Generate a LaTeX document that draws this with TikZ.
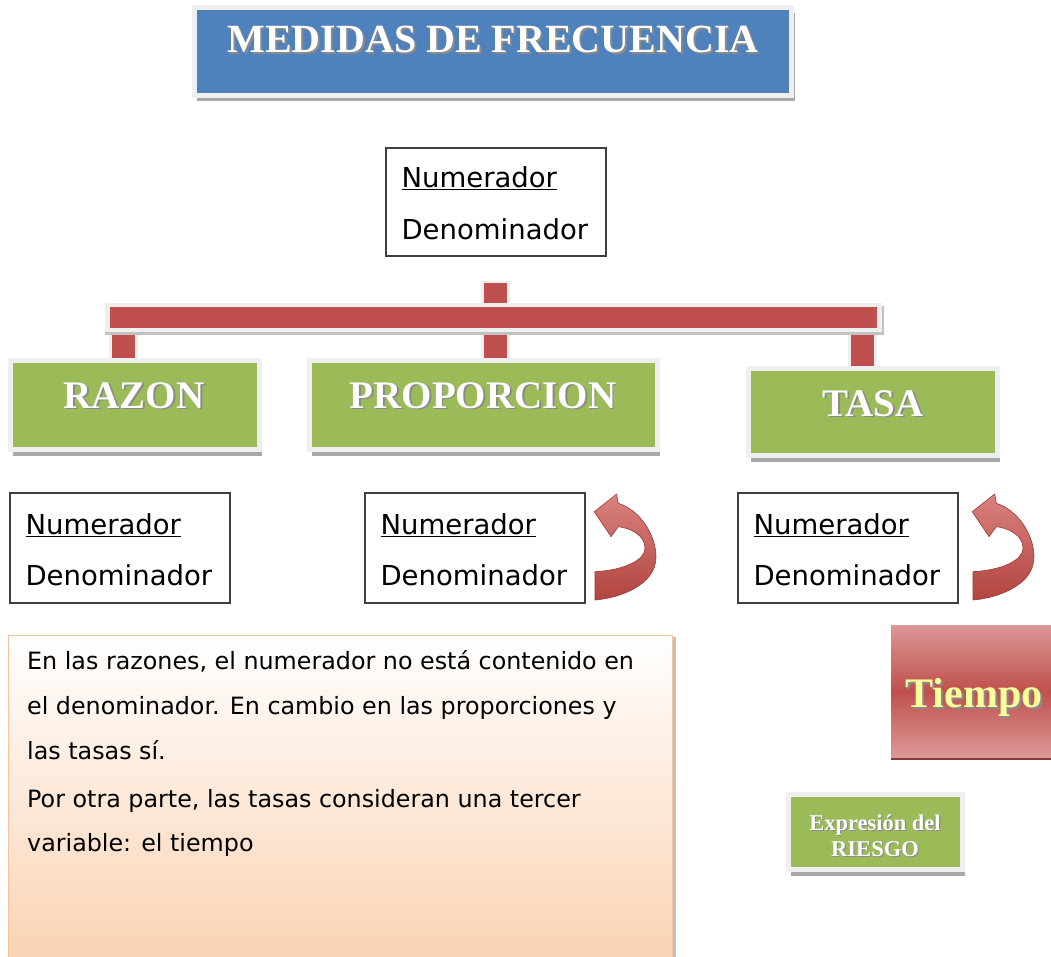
\documentclass[tikz,border=0pt]{standalone}
\usepackage{fontspec}
\setmainfont{Liberation Serif}
\newfontfamily\vfont{DejaVu Sans}
\usetikzlibrary{shadows,calc}
\definecolor{oblue}{HTML}{4F81BD}
\definecolor{ogreen}{HTML}{9BBB59}
\definecolor{ored}{HTML}{C0504D}
\definecolor{oredlight}{HTML}{DA9896}
\definecolor{oreddark}{HTML}{8C3A37}
\definecolor{framegray}{HTML}{EFEFEF}
\definecolor{shadgray}{HTML}{A8A8A8}
\definecolor{txtshadow}{HTML}{8A8A8A}
\definecolor{peach}{HTML}{FAD2B2}
\definecolor{peachline}{HTML}{F6C39C}
\definecolor{tyellow}{HTML}{FFFF99}
\definecolor{ndline}{HTML}{404040}
\definecolor{arrlight}{HTML}{D9827F}
\definecolor{arrdark}{HTML}{B2443F}
\newcommand{\shtext}[3]{\makebox[0pt][l]{\hspace*{#2}\raisebox{-#2}{\textcolor{#1}{#3}}}#3}
\begin{document}
\begin{tikzpicture}[x=1pt,y=-1pt,
  officebox/.style={draw=framegray, line width=5pt, inner sep=0pt,
    drop shadow={shadow xshift=2pt, shadow yshift=-6pt, fill=shadgray, opacity=1}},
  greenbox/.style={officebox, fill=ogreen},
  headtext/.style={text=white, font=\bfseries\fontsize{39}{44}\selectfont, inner sep=0pt, anchor=base},
  ndbox/.style={draw=ndline, line width=1.3pt, fill=white, minimum width=220pt, minimum height=110pt, inner sep=0pt},
  ndtext/.style={font=\vfont\fontsize{27.5}{33}\selectfont, inner sep=0pt, anchor=base west},
  notetext/.style={font=\vfont\fontsize{23.8}{28}\selectfont, inner sep=0pt, anchor=base west},
  barframe/.style={framegray, line width=29pt},
  barred/.style={ored, line width=20pt},
  stubframe/.style={framegray, line width=29pt},
  stubred/.style={ored, line width=23pt},
  curlarrow/.style={top color=arrlight, bottom color=arrdark, draw=arrdark!85!black, line width=0.6pt}
]
\useasboundingbox (0,0) rectangle (1051,957);
\clip (0,0) rectangle (1051,957);

% ---------- title ----------
\node[officebox, fill=oblue, minimum width=597pt, minimum height=88pt,
      drop shadow={shadow xshift=3pt, shadow yshift=-6pt, fill=shadgray, opacity=1}] (title) at (493,51.5) {};
\node[headtext, font=\bfseries\fontsize{40}{44}\selectfont] (titletext) at (493,53) {\shtext{txtshadow}{2pt}{MEDIDAS DE FRECUENCIA}};

% ---------- top fraction box ----------
\node[ndbox, minimum height=108pt] (nd0) at (496,202) {};
\node[ndtext] (nd0n) at ($(nd0.north west)+(16,40)$) {\underline{Numerador}};
\node[ndtext] (nd0d) at ($(nd0.north west)+(16,92)$) {Denominador};

% ---------- red connectors ----------
\coordinate (cTop) at (495.5,281);
\coordinate (cMid) at (495.5,317.5);
\coordinate (cL) at (110,317.5);
\coordinate (cR) at (877,317.5);
\coordinate (cLb) at (123,317.5);
\coordinate (cRb) at (862.5,317.5);
\coordinate (sL) at (123,362);
\coordinate (sM) at (495.5,362);
\coordinate (sR) at (862.5,370);

\draw[stubframe] (cTop) -- (cMid);
\draw[stubred, shorten <=2pt] (cTop) -- (cMid);
\draw[stubframe] (cLb) -- (sL);
\draw[stubred] (cLb) -- (sL);
\draw[stubframe] (cMid) -- (sM);
\draw[stubred] (cMid) -- (sM);
\draw[stubframe] (cRb) -- (sR);
\draw[stubred] (cRb) -- (sR);
\draw[shadgray!70, line width=29pt, shorten <=-5pt, shorten >=-7pt] ([yshift=-3pt]cL) -- ([yshift=-3pt]cR);
\draw[barframe, shorten <=-5pt, shorten >=-5pt] (cL) -- (cR);
\draw[barred] (cL) -- (cR);

% ---------- green category boxes ----------
\node[greenbox, minimum width=249pt, minimum height=89pt] (razon) at (135,405) {};
\node[headtext] (razont) at (134,408) {\shtext{txtshadow}{1.8pt}{RAZON}};
\node[greenbox, minimum width=348pt, minimum height=89pt] (prop) at (483.5,405) {};
\node[headtext] (propt) at (483,408) {\shtext{txtshadow}{1.8pt}{PROPORCION}};
\node[greenbox, minimum width=249pt, minimum height=87pt] (tasa) at (873,412) {};
\node[headtext] (tasat) at (873,416) {\shtext{txtshadow}{1.8pt}{TASA}};

% ---------- lower fraction boxes ----------
\node[ndbox] (nd1) at (120,548) {};
\node[ndtext] (nd1n) at ($(nd1.north west)+(16,42)$) {\underline{Numerador}};
\node[ndtext] (nd1d) at ($(nd1.north west)+(16,93)$) {Denominador};
\node[ndbox] (nd2) at (475,548) {};
\node[ndtext] (nd2n) at ($(nd2.north west)+(16,42)$) {\underline{Numerador}};
\node[ndtext] (nd2d) at ($(nd2.north west)+(16,93)$) {Denominador};
\node[ndbox] (nd3) at (848,548) {};
\node[ndtext] (nd3n) at ($(nd3.north west)+(16,42)$) {\underline{Numerador}};
\node[ndtext] (nd3d) at ($(nd3.north west)+(16,93)$) {Denominador};

% ---------- curved arrows ----------
\foreach \ox in {585,963}{
\begin{scope}[shift={(\ox,490)}]
\path[curlarrow] (9.3,21.7) -- (31.7,4) -- (33.3,13.3)
  .. controls (55,20) and (71,45) .. (71,67)
  .. controls (71,95) and (35,108) .. (10,110)
  -- (10,81.7)
  .. controls (40,80) and (60,70) .. (60,58)
  .. controls (60,45) and (45,38) .. (33.3,36.7)
  -- (26,46.7) -- cycle;
\end{scope}
}

% ---------- note box ----------
\node[draw=peachline, line width=1.2pt, top color=white, bottom color=peach,
      minimum width=664pt, minimum height=330pt, inner sep=0pt, anchor=north west,
      drop shadow={shadow xshift=3pt, shadow yshift=-1pt, fill=shadgray!70, opacity=1}] (note) at (8,635) {};
\node[notetext] (l1) at (27,669) {En las razones, el numerador no está contenido en};
\node[notetext] (l2) at (27,714) {el denominador. En cambio en las proporciones y};
\node[notetext] (l3) at (27,759) {las tasas sí.};
\node[notetext] (l4) at (27,807) {Por otra parte, las tasas consideran una tercer};
\node[notetext] (l5) at (27,851) {variable: el tiempo};

% ---------- Tiempo ----------
\node[inner sep=0pt, minimum width=170pt, minimum height=132pt,
      top color=oredlight, bottom color=oredlight, middle color=ored,
      drop shadow={shadow xshift=0pt, shadow yshift=-3pt, fill=oreddark, opacity=1}] (tiempo) at (976,691) {};
\node[headtext, text=tyellow, font=\bfseries\fontsize{42}{46}\selectfont] (tiempot) at (974,707) {\shtext{txtshadow}{2pt}{Tiempo}};

% ---------- Expresion del riesgo ----------
\node[greenbox, minimum width=174pt, minimum height=75pt] (riesgo) at (875.5,832) {};
\node[headtext, font=\bfseries\fontsize{22.5}{26}\selectfont] (riesgo1) at (875,830) {\shtext{txtshadow}{1.2pt}{Expresión del}};
\node[headtext, font=\bfseries\fontsize{22.5}{26}\selectfont] (riesgo2) at (875,856) {\shtext{txtshadow}{1.2pt}{RIESGO}};
\end{tikzpicture}
\end{document}
